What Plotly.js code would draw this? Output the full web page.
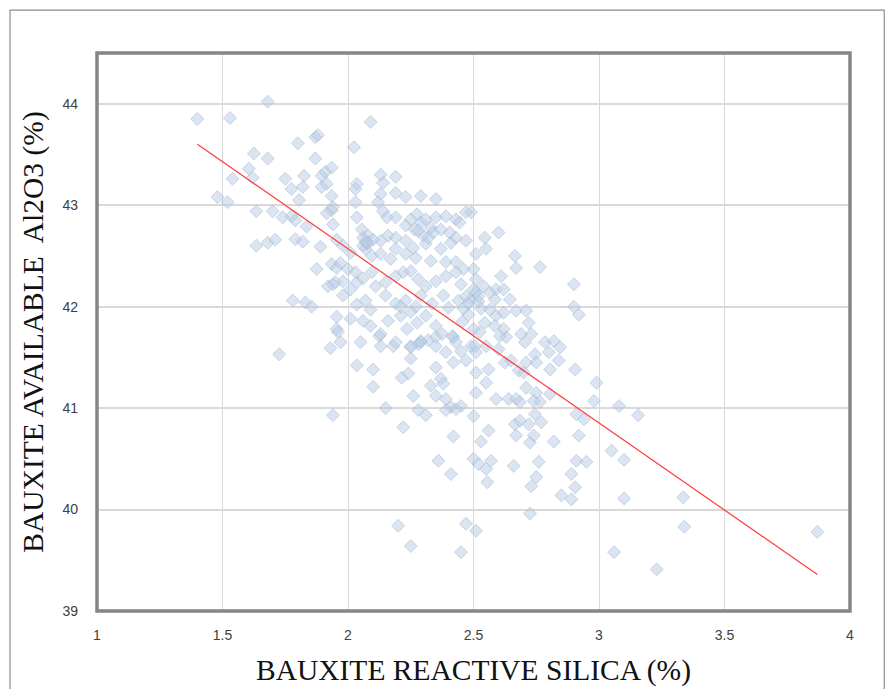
<!DOCTYPE html>
<html>
<head>
<meta charset="utf-8">
<script src="https://cdn.plot.ly/plotly-3.0.1.min.js"></script>
<style>
html,body{margin:0;padding:0;background:#fff;}
#chart{width:887px;height:689px;}
</style>
</head>
<body>
<div id="chart"></div>
<script>
// Bauxite reactive silica (%) vs available Al2O3 (%)
const points = [
[1.40,43.85],[1.53,43.86],[1.68,44.02],[1.80,43.61],[1.87,43.67],[1.88,43.69],[1.625,43.51],[1.68,43.46],[1.87,43.46],[1.605,43.36],
[1.62,43.27],[1.54,43.26],[1.75,43.26],[1.825,43.29],[1.895,43.29],[1.91,43.33],[1.935,43.37],[1.775,43.16],[1.82,43.18],[1.895,43.18],
[1.915,43.21],[1.48,43.08],[1.52,43.03],[1.805,43.05],[1.935,43.09],[1.635,42.94],[1.70,42.94],[1.74,42.88],[1.775,42.89],[1.79,42.85],
[1.835,42.79],[1.915,42.92],[1.935,42.95],[1.94,42.81],[1.635,42.60],[1.68,42.63],[1.71,42.66],[1.79,42.665],[1.82,42.64],[1.89,42.59],
[1.935,42.42],[1.955,42.38],[1.875,42.37],[1.92,42.20],[1.94,42.22],[1.78,42.06],[1.83,42.04],[1.855,42.00],[1.955,41.90],[1.955,41.78],
[1.726,41.53],[1.93,41.59],[1.96,41.75],[1.94,40.93],[2.09,43.82],
[2.035,41.42],[2.10,41.38],[2.10,41.21],[2.15,41.00],[2.22,40.81],[2.26,41.12],[2.28,40.98],[2.31,40.93],[2.214,41.30],[2.24,41.34],
[2.35,41.40],[2.25,41.49],[2.18,41.61],[2.125,41.71],[2.33,41.22],[2.37,41.29],[2.38,41.24],[2.35,41.12],[2.39,41.09],[2.41,41.01],
[2.45,41.02],[2.43,40.99],[2.39,40.98],[2.42,40.72],[2.36,40.48],[2.41,40.35],[2.50,40.50],[2.20,39.84],[2.25,39.64],[2.45,39.58],
[2.47,39.86],[2.51,39.79],[2.50,40.92],[2.29,41.66],[2.32,41.67],[2.35,41.70],[2.25,41.61],[2.28,41.63],[2.42,41.70],[2.45,41.56],
[2.49,41.61],[2.51,41.55],[2.39,41.55],[2.42,41.45],[2.47,41.47],
[2.56,40.78],[2.53,40.67],[2.52,40.45],[2.55,40.40],[2.57,40.48],[2.555,40.27],[2.66,40.43],[2.67,40.73],[2.665,40.84],[2.685,40.875],
[2.72,40.84],[2.725,40.66],[2.74,40.73],[2.745,40.94],[2.77,40.86],[2.82,40.67],[2.76,40.47],[2.75,40.32],[2.73,40.23],[2.725,39.96],
[2.85,40.14],[2.89,40.10],[2.905,40.22],[2.89,40.35],[2.91,40.48],[2.95,40.47],[2.92,40.73],[2.94,40.89],[2.91,40.94],[3.05,40.58],
[3.10,40.49],[3.10,40.11],[3.06,39.58],[3.08,41.02],[3.156,40.93],[3.336,40.12],[3.34,39.83],[3.23,39.41],[3.87,39.78],[2.99,41.25],
[2.98,41.07],
[2.90,42.22],[2.90,42.00],[2.92,41.92],[2.765,42.39],[2.665,42.50],[2.67,42.38],[2.60,42.73],[2.545,42.68],[2.55,42.57],[2.51,42.52],
[2.49,42.93],[2.61,42.30],[2.59,42.17],[2.62,42.17],[2.645,42.07],[2.67,41.96],[2.71,41.96],[2.72,41.84],[2.69,41.73],[2.73,41.73],
[2.705,41.65],[2.63,41.70],[2.62,41.78],[2.785,41.65],[2.82,41.66],[2.845,41.60],[2.80,41.55],[2.84,41.47],[2.805,41.38],[2.745,41.53],
[2.75,41.45],[2.905,41.38],[2.625,41.45],[2.65,41.47],[2.68,41.37],[2.71,41.45],[2.70,41.35],[2.71,41.20],[2.75,41.15],[2.765,41.06],
[2.805,41.14],[2.74,41.07],[2.59,41.09],[2.64,41.09],[2.67,41.09],[2.685,41.06],[2.56,41.38],[2.55,41.25],[2.51,41.35],[2.51,41.15],
[2.54,42.20],[2.565,42.14],[2.585,42.07],[2.565,41.97],[2.59,41.91],[2.62,41.94],[2.545,41.84],[2.585,41.81],[2.605,41.71],[2.525,41.75],
[2.505,41.61],[2.55,41.61],[2.60,41.58],[2.50,42.37],[2.51,42.27],[2.50,42.17],[2.49,42.07],
[2.024,43.57],[2.13,43.30],[2.14,43.22],[2.19,43.28],[2.035,43.21],[2.03,43.16],[2.13,43.11],[2.19,43.12],[2.23,43.08],[2.29,43.09],
[2.35,43.06],[1.94,42.98],[2.03,43.03],[2.035,42.88],[2.055,42.76],[2.12,43.03],[2.14,42.94],[2.155,42.88],[2.19,42.88],[2.23,42.80],
[2.25,42.86],[2.275,42.91],[2.29,42.83],[2.31,42.86],[2.33,42.78],[2.35,42.88],[2.39,42.89],[2.43,42.86],[2.47,42.93],[2.445,42.83],
[2.06,42.68],[2.08,42.70],[2.075,42.62],[2.07,42.57],[2.095,42.50],[1.955,42.66],[1.98,42.60],[2.01,42.53],[1.97,42.43],[2.00,42.37],
[2.03,42.34],[2.13,42.65],[2.16,42.70],[2.19,42.68],[2.23,42.65],[2.265,42.76],[2.30,42.70],[2.31,42.62],[2.34,42.73],[2.37,42.76],
[2.405,42.73],[2.41,42.63],[2.43,42.68],[2.47,42.65],[2.13,42.52],[2.17,42.47],[2.19,42.57],[2.23,42.52],[2.26,42.58],[2.27,42.48],
[2.33,42.45],[2.37,42.57],[2.39,42.44],[2.43,42.44],[2.46,42.37],[1.95,42.24],[1.98,42.25],[2.01,42.17],[2.035,42.24],[2.06,42.28],
[2.095,42.34],[2.11,42.20],[2.15,42.24],[2.19,42.30],[2.22,42.34],[2.25,42.35],[2.28,42.27],[2.31,42.20],[2.35,42.25],[2.39,42.30],
[2.43,42.34],[2.45,42.22],[1.98,42.11],[2.035,42.02],[2.07,42.06],[2.09,41.97],[2.15,42.11],[2.19,42.03],[2.23,42.06],[2.27,42.00],
[2.29,42.11],[2.335,42.03],[2.38,42.11],[2.40,41.99],[2.44,42.06],[2.51,42.14],[2.01,41.88],[2.06,41.86],[2.09,41.81],[2.13,41.73],
[2.16,41.86],[2.21,41.91],[2.235,41.78],[2.275,41.84],[2.31,41.91],[2.35,41.81],[2.375,41.73],[2.415,41.71],[2.455,41.85],[2.50,41.78],
[1.97,41.65],[2.05,41.65],[2.13,41.61],[2.19,41.65],[2.25,41.60],[2.29,41.65],[2.35,41.61],[2.43,41.65],
[2.47,42.10],[2.48,42.03],[2.46,41.98],[2.52,42.05],[2.53,41.98],[2.48,41.92],[2.08,42.63],[2.06,42.60],[2.10,42.66],[2.32,42.68],
[2.28,42.75],[2.25,41.95],[2.21,42.00],[2.52,42.10],[2.07,42.64]
];
const silica = points.map(p => p[0]);
const alumina = points.map(p => p[1]);

// Linear trend line end points
const trendX = [1.40, 3.87];
const trendY = [43.60, 39.36];

const xTicks = [1, 1.5, 2, 2.5, 3, 3.5, 4];
const xTickText = ['1', '1.5', '2', '2.5', '3', '3.5', '4'];
const yTicks = [39, 40, 41, 42, 43, 44];
const yTickText = ['39', '40', '41', '42', '43', '44'];

const xTitle = 'BAUXITE REACTIVE SILICA (%)';
const yTitle = 'BAUXITE AVAILABLE  Al2O3 (%)';

const traces = [
  {
    x: silica, y: alumina, type: 'scatter', mode: 'markers',
    marker: {symbol: 'diamond', size: 10, color: 'rgba(184,204,230,0.5)',
             line: {color: 'rgba(160,180,205,0.5)', width: 1}},
    hoverinfo: 'x+y', showlegend: false
  },
  {
    x: trendX, y: trendY, type: 'scatter', mode: 'lines',
    line: {color: '#ff3b3b', width: 1.2}, hoverinfo: 'skip', showlegend: false
  }
];

const tickFont = {family: '"Liberation Sans", Arial, sans-serif', size: 14, color: '#404040'};
const titleFont = {family: '"Liberation Serif", "Times New Roman", serif', size: 29.5, color: '#111'};

const layout = {
  width: 887, height: 689,
  margin: {l: 97, r: 37, t: 53, b: 78, pad: 0},
  paper_bgcolor: '#fff', plot_bgcolor: '#fff',
  xaxis: {
    range: [1, 4], tickvals: xTicks, ticktext: xTickText,
    showgrid: true, gridcolor: '#d9d9d9', gridwidth: 1,
    zeroline: false, showline: false, ticks: '', ticklabelstandoff: 14,
    tickfont: tickFont, automargin: false,
    title: {text: xTitle, font: titleFont, standoff: 17}
  },
  yaxis: {
    range: [39, 44.5], tickvals: yTicks, ticktext: yTickText,
    showgrid: true, gridcolor: '#d9d9d9', gridwidth: 2,
    zeroline: false, showline: false, ticks: '', ticklabelstandoff: 18,
    tickfont: tickFont, automargin: false,
    title: {text: yTitle, font: titleFont, standoff: 10}
  },
  shapes: [
    {type: 'rect', xref: 'paper', yref: 'paper', x0: 0, x1: 1, y0: 0, y1: 1,
     line: {color: '#858585', width: 3.5}, layer: 'above'},
    {type: 'rect', xref: 'paper', yref: 'paper', x0: -0.1155, x1: 1.0455, y0: -0.16, y1: 1.077,
     line: {color: '#8c8c8c', width: 1.2}, layer: 'above'}
  ]
};

Plotly.newPlot('chart', traces, layout, {displayModeBar: false, staticPlot: true});
</script>
</body>
</html>
